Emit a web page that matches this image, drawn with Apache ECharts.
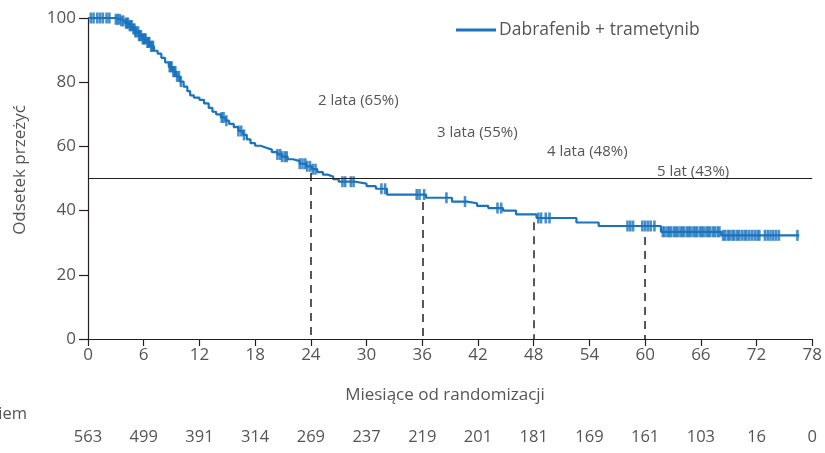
<!DOCTYPE html>
<html>
<head>
<meta charset="utf-8">
<script src="https://cdn.jsdelivr.net/npm/echarts@6/dist/echarts.min.js"></script>
<style>
  html, body { margin: 0; padding: 0; background: #fff; }
  #chart { width: 825px; height: 453px; }
</style>
</head>
<body>
<div id="chart"></div>
<script>
// Kaplan-Meier step points: month of each drop and survival (%) after it
const kmTimes = [0, 2.9, 3.6, 4.0, 4.4, 4.8, 5.1, 5.5, 5.9, 6.3, 6.7, 7.1, 7.5, 7.9, 8.3, 8.7, 9.1, 9.5, 9.9,
  10.3, 10.7, 11.0, 11.4, 12.0, 12.5, 13.0, 13.4, 13.8, 14.3, 14.8, 15.2, 15.7, 16.2, 16.7, 17.1, 17.5, 18.0,
  18.6, 19.2, 19.8, 20.4, 20.9, 21.5, 22.1, 22.8, 23.5, 24.1, 24.7, 25.3, 25.8, 26.4, 27.0, 28.8, 30.0, 31.0,
  32.2, 36.4, 39.2, 40.8, 41.9, 43.1, 44.7, 46.1, 48.3, 52.6, 55.0, 61.7, 68.2, 76.6];
const kmSurv = [100, 99.6, 99.1, 98.4, 97.6, 96.6, 95.7, 94.5, 93.5, 92.4, 91.2, 89.8, 88.9, 87.6, 86.2, 84.8, 83.3, 81.8, 80.2,
  78.6, 77.2, 75.9, 75.2, 74.5, 73.4, 72.0, 70.8, 70.0, 69.0, 68.0, 67.0, 66.0, 64.8, 63.6, 62.2, 61.0, 60.2,
  59.6, 59.0, 58.2, 57.5, 56.8, 56.0, 55.4, 54.6, 53.8, 52.9, 52.0, 51.2, 50.6, 49.8, 49.0, 48.4, 47.6, 46.8,
  45.0, 44.0, 42.8, 42.3, 41.5, 40.8, 40.0, 38.8, 37.7, 36.3, 35.2, 33.4, 32.3, 32.3];

// Censored observations (months)
const censorTimes = [0.3, 0.6, 1.0, 1.3, 1.6, 2.0, 2.3, 3.0, 3.2, 3.4, 3.6, 3.8,
  4.1, 4.2, 4.3, 4.5, 4.6, 4.7, 4.9, 5.0, 5.1, 5.2, 5.4, 5.5, 5.6, 5.7, 5.9, 6.0, 6.1, 6.2, 6.4, 6.5,
  6.6, 6.8, 6.9, 7.0,
  8.8, 8.9, 9.0, 9.2, 9.3, 9.4, 9.6, 9.8, 10.0,
  14.4, 14.6, 14.9, 16.2, 16.5, 16.8,
  20.4, 20.7, 20.9, 21.2, 21.4,
  22.8, 23.1, 23.4, 23.6, 23.9, 24.2, 24.5,
  27.4, 27.7, 28.3, 28.6, 31.6, 32.0, 35.4, 35.7, 36.2,
  38.6, 40.6, 44.1, 44.5, 48.5, 48.8, 49.3, 49.7,
  58.1, 58.4, 58.7, 59.7, 60.0, 60.3, 60.6, 61.0,
  61.9, 62.1, 62.4, 62.6, 62.8, 63.1, 63.3, 63.5, 63.8, 64.0, 64.2, 64.5, 64.7, 64.9, 65.2, 65.4,
  65.6, 65.9, 66.1, 66.3, 66.6, 66.8, 67.0, 67.3, 67.5, 67.8, 68.0,
  68.4, 68.6, 68.9, 69.1, 69.4, 69.6, 69.9, 70.1, 70.4, 70.7, 70.9, 71.2, 71.5, 71.8, 72.1, 72.3,
  72.9, 73.2, 73.5, 73.8, 74.1, 74.4, 76.4];

// Patients at risk at each 6-month tick
const riskCounts = [563, 499, 391, 314, 269, 237, 219, 201, 181, 169, 161, 103, 16, 0];

// Landmark estimates and the heights where their dashed guides start
const milestoneMonths = [24, 36, 48, 60];
const milestoneTop = [51.7, 42.7, 36.4, 31.8];
const milestoneLabels = ['2 lata (65%)', '3 lata (55%)', '4 lata (48%)', '5 lat (43%)'];
const medianLevel = 50;

const seriesName = 'Dabrafenib + trametynib';
const blue = '#1a73bd';
const ink = '#231f20';
const grey = '#555555';
const font = 'Open Sans';

function survivalAt(t) {
  let s = kmSurv[0];
  for (let i = 0; i < kmTimes.length; i++) {
    if (kmTimes[i] <= t) s = kmSurv[i];
  }
  return s;
}

const kmData = kmTimes.map((t, i) => [t, kmSurv[i]]);
const censorData = censorTimes.map(t => [t, survivalAt(t)]);

const chart = echarts.init(document.getElementById('chart'), null, { renderer: 'canvas' });

chart.setOption({
  animation: false,
  backgroundColor: '#fff',
  textStyle: { fontFamily: font },
  grid: { left: 88, right: 12, top: 18, bottom: 114, containLabel: false },
  legend: {
    left: 451, top: 16,
    icon: 'rect', itemWidth: 40, itemHeight: 3, itemGap: 6,
    data: [seriesName],
    textStyle: { fontFamily: font, fontSize: 17.5, color: grey, padding: [0, 0, 0, -2] }
  },
  xAxis: [{
    type: 'value', min: 0, max: 78, interval: 6,
    axisLine: { show: true, lineStyle: { color: ink, width: 1.2 } },
    axisTick: { show: true, length: 7, lineStyle: { color: ink, width: 1.2 } },
    axisLabel: { color: grey, fontSize: 17, fontFamily: font, margin: 8 },
    splitLine: { show: false }
  }, {
    type: 'value', min: 0, max: 78, interval: 6, position: 'bottom', offset: 90,
    axisLine: { show: false }, axisTick: { show: false }, splitLine: { show: false },
    axisLabel: {
      color: grey, fontSize: 16.5, fontFamily: font, margin: 0,
      formatter: v => String(riskCounts[Math.round(v / 6)])
    }
  }],
  yAxis: {
    type: 'value', min: 0, max: 100, interval: 20,
    axisLine: { show: true, lineStyle: { color: ink, width: 1.2 } },
    axisTick: { show: true, length: 9, lineStyle: { color: ink, width: 1.2 } },
    axisLabel: { color: grey, fontSize: 17, fontFamily: font, margin: 12 },
    splitLine: { show: false }
  },
  series: [{
    name: seriesName,
    type: 'line',
    step: 'end',
    data: kmData,
    symbol: 'none',
    lineStyle: { color: blue, width: 2.2 },
    itemStyle: { color: blue },
    z: 3,
    markLine: {
      silent: true, symbol: 'none', label: { show: false },
      data: [
        { yAxis: medianLevel, lineStyle: { color: ink, width: 1.2, type: 'solid' } },
        ...milestoneMonths.map((m, i) => [
          { coord: [m, milestoneTop[i]], lineStyle: { color: ink, width: 1.5, type: [8, 6] } },
          { coord: [m, 0] }
        ])
      ]
    }
  }, {
    name: 'censored',
    type: 'scatter',
    data: censorData,
    symbol: 'rect',
    symbolSize: [2.6, 11],
    itemStyle: { color: blue },
    z: 4
  }],
  graphic: [
    {
      type: 'text', rotation: Math.PI / 2,
      style: { text: 'Odsetek przeżyć', fill: grey, font: '17px "Open Sans"', textAlign: 'center', textVerticalAlign: 'middle' },
      x: 20, y: 170
    },
    {
      type: 'text', x: 445, y: 395,
      style: { text: 'Miesiące od randomizacji', fill: grey, font: '17px "Open Sans"', textAlign: 'center', textVerticalAlign: 'middle' }
    },
    {
      type: 'text', x: 27, y: 414,
      style: { text: 'Liczba pacjentów zagrożonych ryzykiem', fill: grey, font: '16.5px "Open Sans"', textAlign: 'right', textVerticalAlign: 'middle' }
    },
    ...milestoneLabels.map((t, i) => ({
      type: 'text', x: [318, 437, 547, 657][i], y: [101, 133, 152, 172][i],
      style: { text: t, fill: grey, font: '15px "Open Sans"', textAlign: 'left', textVerticalAlign: 'middle' }
    }))
  ]
});
</script>
</body>
</html>
